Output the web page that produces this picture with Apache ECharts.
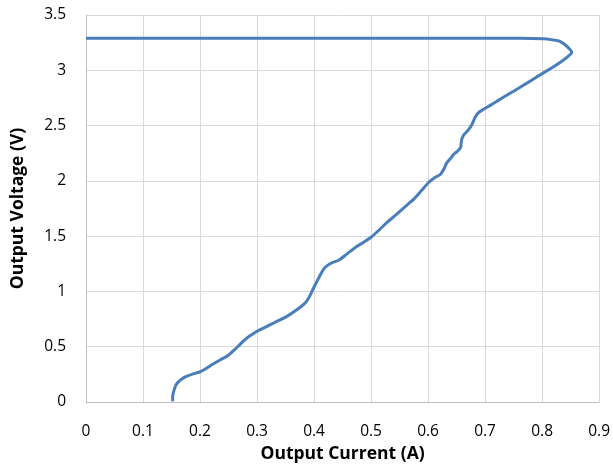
<!DOCTYPE html>
<html>
<head>
<meta charset="utf-8">
<script src="https://cdn.jsdelivr.net/npm/echarts@6/dist/echarts.min.js"></script>
<style>html,body{margin:0;padding:0;background:#fff}#c{width:613px;height:468px}</style>
</head>
<body>
<div id="c"></div>
<script>
var currentA = [0.152,0.152,0.153,0.158,0.166,0.176,0.188,0.199,0.210,0.220,0.235,0.249,0.260,0.269,0.278,0.287,0.300,0.316,0.333,0.351,0.366,0.380,0.386,0.390,0.395,0.400,0.406,0.412,0.418,0.425,0.432,0.444,0.458,0.473,0.487,0.500,0.514,0.528,0.542,0.555,0.565,0.575,0.588,0.601,0.612,0.622,0.628,0.633,0.639,0.645,0.652,0.657,0.658,0.659,0.662,0.666,0.672,0.677,0.680,0.683,0.688,0.695,0.710,0.724,0.738,0.753,0.777,0.800,0.818,0.834,0.844,0.852,0.845,0.832,0.818,0.802,0.760,0.724,0.600,0.400,0.200,0.000];
var voltageV = [0.006,0.04,0.08,0.156,0.20,0.231,0.255,0.27,0.30,0.335,0.38,0.42,0.47,0.515,0.56,0.596,0.64,0.68,0.725,0.77,0.82,0.875,0.905,0.935,0.985,1.04,1.10,1.16,1.21,1.24,1.26,1.285,1.34,1.40,1.445,1.49,1.555,1.625,1.685,1.745,1.79,1.835,1.91,1.985,2.03,2.06,2.11,2.165,2.20,2.24,2.27,2.30,2.34,2.374,2.41,2.434,2.47,2.51,2.545,2.58,2.615,2.64,2.685,2.73,2.775,2.82,2.895,2.97,3.025,3.08,3.12,3.16,3.21,3.26,3.275,3.285,3.29,3.29,3.29,3.29,3.29,3.29];
var xTicks = [0,0.1,0.2,0.3,0.4,0.5,0.6,0.7,0.8,0.9];
var yTicks = [0,0.5,1,1.5,2,2.5,3,3.5];

var pts = currentA.map(function(x,i){return [x, voltageV[i]];});
var font = 'Open Sans';
var chart = echarts.init(document.getElementById('c'));
chart.setOption({
  animation:false,
  backgroundColor:'#fff',
  grid:{left:86,right:12,top:15,bottom:64,containLabel:false},
  xAxis:{
    type:'value',min:xTicks[0],max:xTicks[xTicks.length-1],interval:0.1,
    name:'Output Current (A)',nameLocation:'middle',nameGap:43,
    nameTextStyle:{fontFamily:font,fontSize:17.5,fontWeight:'bold',color:'#000'},
    axisLine:{show:true,lineStyle:{color:'#bfbfbf',width:1}},
    axisTick:{show:false},
    axisLabel:{fontFamily:font,fontSize:15.5,color:'#000',margin:22},
    splitLine:{show:true,lineStyle:{color:'#d9d9d9',width:1}}
  },
  yAxis:{
    type:'value',min:yTicks[0],max:yTicks[yTicks.length-1],interval:0.5,
    name:'Output Voltage (V)',nameLocation:'middle',nameGap:59,nameRotate:90,
    nameTextStyle:{fontFamily:font,fontSize:17.5,fontWeight:'bold',color:'#000'},
    axisLine:{show:true,lineStyle:{color:'#bfbfbf',width:1}},
    axisTick:{show:false},
    axisLabel:{fontFamily:font,fontSize:15.5,color:'#000',margin:20},
    splitLine:{show:true,lineStyle:{color:'#d9d9d9',width:1}}
  },
  series:[{
    type:'line',data:pts,showSymbol:false,smooth:0.25,
    lineStyle:{color:'#4a7ebb',width:3},
    itemStyle:{color:'#4a7ebb'}
  }]
});
</script>
</body>
</html>
